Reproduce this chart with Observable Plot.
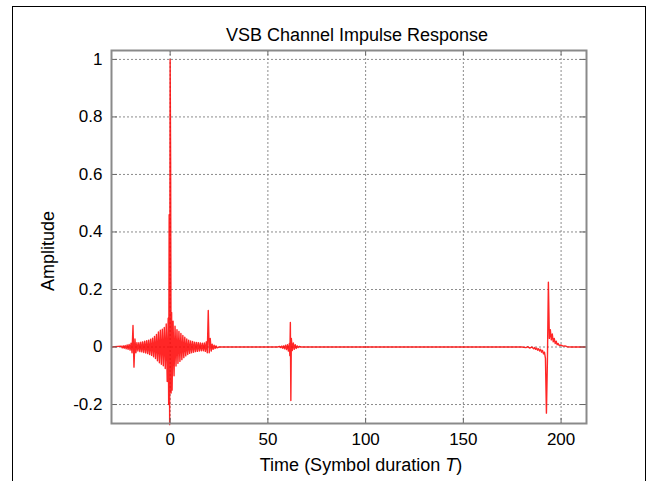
<!DOCTYPE html>
<html>
<head>
<meta charset="utf-8">
<script src="https://cdn.jsdelivr.net/npm/d3@7"></script>
<script src="https://cdn.jsdelivr.net/npm/@observablehq/plot@0.6"></script>
<style>
  html, body { margin: 0; padding: 0; background: #fff; overflow: hidden; }
  #wrap { position: relative; width: 650px; height: 481px; }
  #wrap svg { position: absolute; left: 0; top: 0; }
  #border { position: absolute; left: 12px; top: 6px; width: 634px; height: 520px; box-sizing: border-box; border: 1px solid #000; pointer-events: none; }
</style>
</head>
<body>
<div id="wrap"><div id="border"></div></div>
<script>
// ---- chart values ----
const titleText = "VSB Channel Impulse Response";
const xLabelText = "Time (Symbol duration ";
const xLabelItalic = "T";
const yLabelText = "Amplitude";

const xTicks = [0, 50, 100, 150, 200];
const xTickLabels = ["0", "50", "100", "150", "200"];
const yTicks = [-0.2, 0, 0.2, 0.4, 0.6, 0.8, 1];
const yTickLabels = ["-0.2", "0", "0.2", "0.4", "0.6", "0.8", "1"];
const xDomain = [-30, 213];
const yDomain = [-0.266, 1.031];

// [time (T), amplitude]
const leadIn = [[-30, 0]];
const mainPulse = [
  [-25,0.003],[-24.5,-0.003],[-24,0.004],[-23.5,-0.004],[-23,0.005],[-22.5,-0.006],[-22,0.007],[-21.5,-0.008],
  [-21,0.009],[-20.5,-0.011],[-20,0.013],[-19.5,-0.02],[-19,0.075],[-18.5,-0.07],[-18,0.028],[-17.5,-0.02],
  [-17,0.015],[-16.5,-0.014],[-16,0.015],[-15.5,-0.016],[-15,0.017],[-14.5,-0.017],[-14,0.018],[-13.5,-0.019],
  [-13,0.02],[-12.5,-0.021],[-12,0.022],[-11.5,-0.023],[-11,0.024],[-10.5,-0.026],[-10,0.027],[-9.5,-0.029],
  [-9,0.031],[-8.5,-0.034],[-8,0.037],[-7.5,-0.04],[-7,0.044],[-6.5,-0.048],[-6,0.052],[-5.5,-0.055],
  [-5,0.058],[-4.5,-0.06],[-4,0.062],[-3.5,-0.065],[-3,0.068],[-2.5,-0.075],[-2,0.08],[-1.5,-0.12],
  [-1,0.1],[-0.75,-0.2],[-0.5,0.46],[-0.25,-0.27],[0,1.0],[0.25,0.64],[0.5,-0.16],[0.75,0.12],
  [1,-0.15],[1.5,0.09],[2,-0.1],[2.5,0.072],[3,-0.066],[3.5,0.06],[4,-0.057],[4.5,0.054],
  [5,-0.05],[5.5,0.047],[6,-0.044],[6.5,0.04],[7,-0.037],[7.5,0.034],[8,-0.031],[8.5,0.028],
  [9,-0.026],[9.5,0.024],[10,-0.022],[10.5,0.021],[11,-0.02],[11.5,0.019],[12,-0.018],[12.5,0.017],
  [13,-0.016],[13.5,0.016],[14,-0.015],[14.5,0.015],[15,-0.014],[15.5,0.014],[16,-0.013],[16.5,0.013],
  [17,-0.013],[17.5,0.014],[18,-0.015],[18.5,0.018],[19,-0.02],[19.5,0.127],[20,-0.02],[20.5,0.03],
  [21,-0.014],[21.5,0.01],[22,-0.008],[22.5,0.006],[23,-0.005],[23.5,0.004],[24,-0.003],[25,0]
];
const echo60 = [
  [55,0],[56,0.002],[56.5,-0.002],[57,0.003],[57.5,-0.004],[58,0.004],[58.5,-0.006],[59,0.006],
  [59.5,-0.009],[60,0.008],[60.5,-0.014],[61,0.012],[61.25,-0.03],[61.5,0.085],[61.75,-0.186],[62,0.03],
  [62.5,-0.012],[63,0.014],[63.5,-0.008],[64,0.008],[64.5,-0.005],[65,0.004],[65.5,-0.002],[66,0.002],[67,0]
];
const echo193 = [
  [180,0],[182,-0.002],[183,0.001],[184,-0.004],[185,0],[186,-0.006],[186.5,-0.002],[187,-0.008],
  [187.5,-0.004],[188,-0.011],[188.5,-0.006],[189,-0.014],[189.5,-0.008],[190,-0.018],[190.5,-0.012],[191,-0.024],
  [191.5,-0.018],[192,-0.04],[192.5,-0.23],[193,-0.05],[193.5,0.225],[194,0.03],[194.5,0.06],[195,0.025],
  [195.5,0.045],[196,0.018],[196.5,0.03],[197,0.012],[197.5,0.02],[198,0.008],[198.5,0.012],[199,0.005],
  [200,0.007],[201,0.003],[202,0.004],[203,0.001],[205,0]
];
const leadOut = [[213, 0]];

const response = [...leadIn, ...mainPulse, ...echo60, ...echo193, ...leadOut]
  .map(([t, a]) => ({t, a}));

const gridStyle = {stroke: "#8c8c8c", strokeOpacity: 1, strokeWidth: 1, strokeDasharray: "2,2"};
const tickLen = 0.018; // inward tick length in y units
const tickLenX = 3;    // inward tick length in x units

const plot = Plot.plot({
  width: 650,
  height: 481,
  marginLeft: 111,
  marginRight: 64,
  marginTop: 50,
  marginBottom: 58,
  style: {fontFamily: "'Liberation Sans', Arial, sans-serif", fontSize: "17px", background: "transparent", color: "#000", overflow: "visible"},
  x: {domain: xDomain, ticks: xTicks, tickFormat: (d) => xTickLabels[xTicks.indexOf(d)], tickSize: 0, tickPadding: 9, label: null},
  y: {domain: yDomain, ticks: yTicks, tickFormat: (d) => yTickLabels[yTicks.indexOf(d)], tickSize: 0, tickPadding: 9, label: null},
  marks: [
    Plot.gridX(xTicks, gridStyle),
    Plot.gridY(yTicks, gridStyle),
    Plot.line(response, {x: "t", y: "a", stroke: "#ff0000", strokeWidth: 1.4, strokeOpacity: 0.85}),
    // inward tick marks (MATLAB style)
    Plot.ruleX(xTicks, {y1: yDomain[0], y2: yDomain[0] + tickLen, stroke: "#666", strokeWidth: 1}),
    Plot.ruleX(xTicks, {y1: yDomain[1], y2: yDomain[1] - tickLen, stroke: "#666", strokeWidth: 1}),
    Plot.ruleY(yTicks, {x1: xDomain[0], x2: xDomain[0] + tickLenX, stroke: "#666", strokeWidth: 1}),
    Plot.ruleY(yTicks, {x1: xDomain[1], x2: xDomain[1] - tickLenX, stroke: "#666", strokeWidth: 1}),
    Plot.frame({stroke: "#8a8a8a", strokeWidth: 2})
  ]
});

document.getElementById("wrap").appendChild(plot);

const svg = d3.select(plot);
const font = "'Liberation Sans', Arial, sans-serif";
svg.append("text")
  .attr("x", 357).attr("y", 41)
  .attr("text-anchor", "middle")
  .attr("font-family", font).attr("font-size", 18).attr("fill", "#000")
  .text(titleText);

const xl = svg.append("text")
  .attr("x", 361).attr("y", 471)
  .attr("text-anchor", "middle")
  .attr("font-family", font).attr("font-size", 18).attr("fill", "#000");
xl.append("tspan").text(xLabelText);
xl.append("tspan").attr("font-style", "italic").text(xLabelItalic);
xl.append("tspan").text(")");

svg.append("text")
  .attr("transform", "translate(54,251) rotate(-90)")
  .attr("text-anchor", "middle")
  .attr("font-family", font).attr("font-size", 18).attr("fill", "#000")
  .text(yLabelText);
</script>
</body>
</html>
